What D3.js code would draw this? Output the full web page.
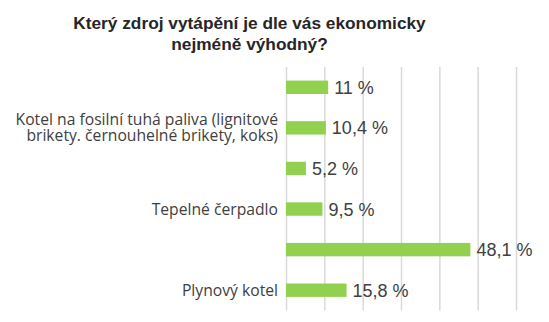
<!DOCTYPE html>
<html>
<head>
<meta charset="utf-8">
<script src="https://cdn.jsdelivr.net/npm/d3@7"></script>
<style>
  html, body { margin: 0; padding: 0; background: #fff; }
  svg { display: block; }
</style>
</head>
<body>
<svg id="chart" width="549" height="322"></svg>
<script>
// Data, top to bottom
const categories = [
  "",
  "Kotel na fosilní tuhá paliva (lignitové\nbrikety. černouhelné brikety, koks)",
  "",
  "Tepelné čerpadlo",
  "",
  "Plynový kotel"
];
const values = [11, 10.4, 5.2, 9.5, 48.1, 15.8];
const valueLabels = ["11 %", "10,4 %", "5,2 %", "9,5 %", "48,1 %", "15,8 %"];
const xTicks = [0, 10, 20, 30, 40, 50, 60];
const titleLines = ["Který zdroj vytápění je dle vás ekonomicky", "nejméně výhodný?"];

const svg = d3.select("#chart");
const ids = categories.map((_, i) => i);

const x = d3.scaleLinear().domain([0, 60]).range([286, 516]);
const y = d3.scaleBand().domain(ids).range([67, 310.5]).paddingInner(0.67).paddingOuter(0.335);

// Title
svg.append("g").selectAll("text")
  .data(titleLines)
  .join("text")
  .attr("x", 249.5)
  .attr("y", (d, i) => 28.5 + i * 21)
  .attr("text-anchor", "middle")
  .attr("font-family", "Liberation Sans, Arial, sans-serif")
  .attr("font-weight", "bold")
  .attr("font-size", 17.3)
  .attr("fill", "#262626")
  .text(d => d);

// Vertical gridlines
const grid = svg.append("g")
  .attr("transform", `translate(0,${y.range()[0]})`)
  .call(d3.axisBottom(x).tickValues(xTicks).tickSize(y.range()[1] - y.range()[0]).tickFormat(""));
grid.select(".domain").remove();
grid.selectAll(".tick line").attr("stroke", "#d9d9d9").attr("stroke-width", 1.5);

// Bars
svg.append("g").selectAll("rect")
  .data(values)
  .join("rect")
  .attr("x", x(0))
  .attr("y", (d, i) => y(i))
  .attr("width", d => x(d) - x(0))
  .attr("height", y.bandwidth())
  .attr("fill", "#92d050");

// Value labels
svg.append("g").selectAll("text")
  .data(values)
  .join("text")
  .attr("x", d => x(d) + 6)
  .attr("y", (d, i) => y(i) + y.bandwidth() / 2)
  .attr("dy", "0.36em")
  .attr("font-family", "Liberation Sans, Arial, sans-serif")
  .attr("font-size", 18)
  .attr("fill", "#404040")
  .text((d, i) => valueLabels[i]);

// Category labels, one text per line
const lineH = 16;
const labelLines = [];
categories.forEach((d, i) => {
  const lines = d ? d.split("\n") : [];
  const cy = y(i) + y.bandwidth() / 2;
  lines.forEach((l, j) => labelLines.push({ text: l, y: cy + (j - (lines.length - 1) / 2) * lineH }));
});
svg.append("g").selectAll("text")
  .data(labelLines)
  .join("text")
  .attr("x", 278)
  .attr("y", d => d.y)
  .attr("dy", "0.35em")
  .attr("text-anchor", "end")
  .attr("font-family", "Open Sans, sans-serif")
  .attr("font-size", 15.7)
  .attr("fill", "#404040")
  .text(d => d.text);
</script>
</body>
</html>
